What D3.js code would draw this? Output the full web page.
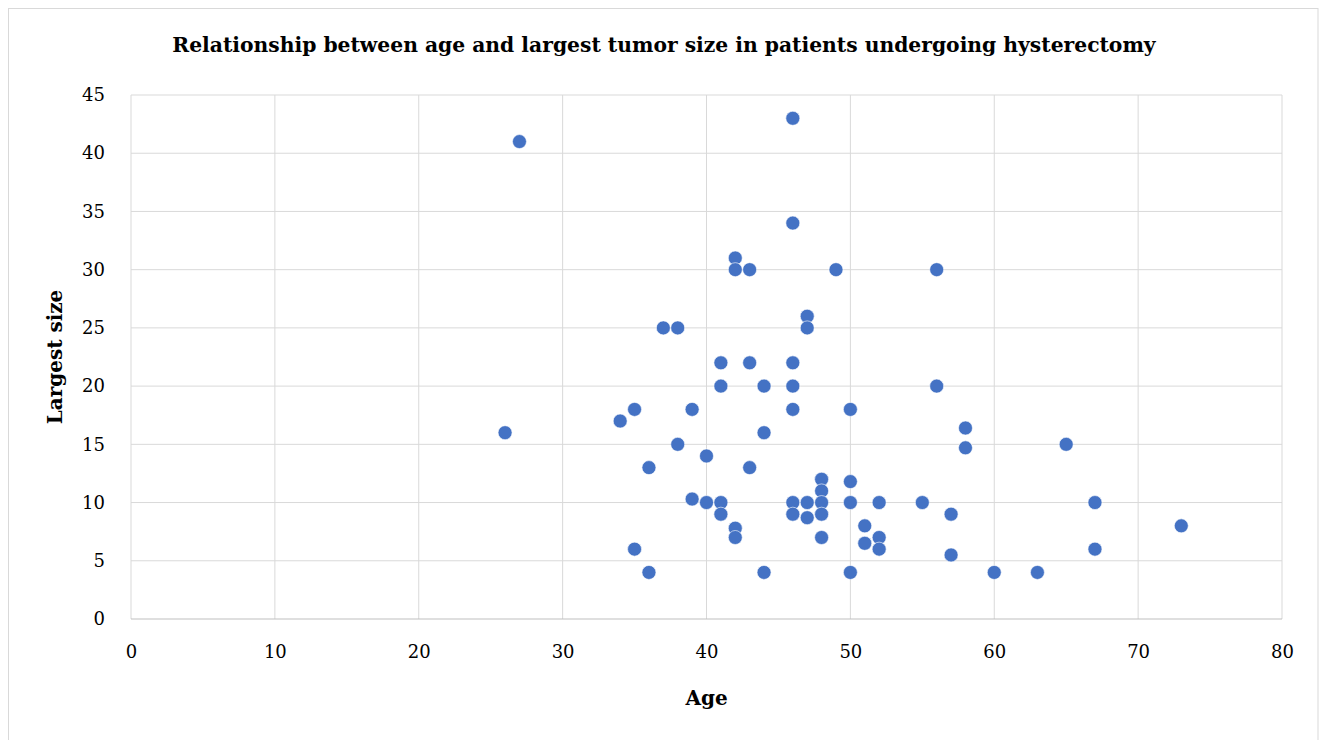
<!DOCTYPE html>
<html>
<head>
<meta charset="utf-8">
<script src="https://cdn.jsdelivr.net/npm/d3@7"></script>
<style>
  body { margin: 0; background: #fff; }
  text { font-family: "DejaVu Serif", serif; }
</style>
</head>
<body>
<div id="container"></div>
<script>
// age vs largest tumor size
const ages  = [27, 26, 46, 46, 42, 42, 43, 49, 56, 37, 38, 47, 47, 41, 43, 46, 41, 44, 46, 56,
               35, 39, 46, 50, 34, 44, 58, 58, 38, 65, 40, 36, 43, 48, 48, 50, 39, 40, 41, 41,
               46, 46, 47, 47, 48, 48, 50, 52, 55, 57, 67, 73, 42, 42, 48, 51, 51, 52, 52, 35,
               57, 67, 36, 44, 50, 60, 63];
const sizes = [41, 16, 43, 34, 31, 30, 30, 30, 30, 25, 25, 26, 25, 22, 22, 22, 20, 20, 20, 20,
               18, 18, 18, 18, 17, 16, 16.4, 14.7, 15, 15, 14, 13, 13, 12, 11, 11.8, 10.3, 10, 10, 9,
               10, 9, 10, 8.7, 10, 9, 10, 10, 10, 9, 10, 8, 7.8, 7, 7, 8, 6.5, 7, 6, 6,
               5.5, 6, 4, 4, 4, 4, 4];
const xTicks = [0, 10, 20, 30, 40, 50, 60, 70, 80];
const yTicks = [0, 5, 10, 15, 20, 25, 30, 35, 40, 45];

const width = 1324, height = 740;
const margin = {left: 131, right: 42, top: 95, bottom: 121};

const svg = d3.select('#container').append('svg').attr('width', width).attr('height', height);

// outer chart border
svg.append('rect')
    .attr('x', 8.5).attr('y', 8.5)
    .attr('width', 1309.5).attr('height', 740)
    .attr('fill', 'none').attr('stroke', '#d9d9d9').attr('stroke-width', 1);

const x = d3.scaleLinear().domain([0, 80]).range([margin.left, width - margin.right]);
const y = d3.scaleLinear().domain([0, 45]).range([height - margin.bottom, margin.top]);

// gridlines
svg.append('g').selectAll('line').data(xTicks).enter().append('line')
    .attr('x1', d => x(d)).attr('x2', d => x(d))
    .attr('y1', y(0)).attr('y2', y(45))
    .attr('stroke', '#d9d9d9').attr('stroke-width', 1);
svg.append('g').selectAll('line').data(yTicks).enter().append('line')
    .attr('x1', x(0)).attr('x2', x(80))
    .attr('y1', d => y(d)).attr('y2', d => y(d))
    .attr('stroke', d => d === 0 ? '#bfbfbf' : '#d9d9d9').attr('stroke-width', 1);

// tick labels via axes
const xAxis = svg.append('g')
    .attr('transform', `translate(0, ${y(0) + 26})`)
    .call(d3.axisBottom(x).tickValues(xTicks).tickSize(0).tickPadding(0));
xAxis.select('.domain').remove();
xAxis.selectAll('text').attr('font-size', 18).attr('fill', '#000').attr('font-family', '"DejaVu Serif", serif').attr('dy', '0.71em');

const yAxis = svg.append('g')
    .attr('transform', `translate(${x(0) - 26}, 0)`)
    .call(d3.axisLeft(y).tickValues(yTicks).tickSize(0).tickPadding(0));
yAxis.select('.domain').remove();
yAxis.selectAll('text').attr('font-size', 18).attr('fill', '#000').attr('font-family', '"DejaVu Serif", serif');

// points
svg.append('g').selectAll('circle')
    .data(ages.map((a, i) => [a, sizes[i]]))
    .enter().append('circle')
    .attr('cx', d => x(d[0])).attr('cy', d => y(d[1]))
    .attr('r', 7)
    .attr('fill', '#4472c4')
    .attr('stroke', '#fff').attr('stroke-width', 0.6);

// titles
svg.append('text')
    .attr('x', 664).attr('y', 52)
    .attr('text-anchor', 'middle')
    .attr('font-size', 20.3).attr('font-weight', 'bold')
    .text('Relationship between age and largest tumor size in patients undergoing hysterectomy');

svg.append('text')
    .attr('x', x(40)).attr('y', 705)
    .attr('text-anchor', 'middle')
    .attr('font-size', 20).attr('font-weight', 'bold')
    .text('Age');

svg.append('text')
    .attr('transform', `translate(62, ${(y(0) + y(45)) / 2}) rotate(-90)`)
    .attr('text-anchor', 'middle')
    .attr('font-size', 20).attr('font-weight', 'bold')
    .text('Largest size');
</script>
</body>
</html>
